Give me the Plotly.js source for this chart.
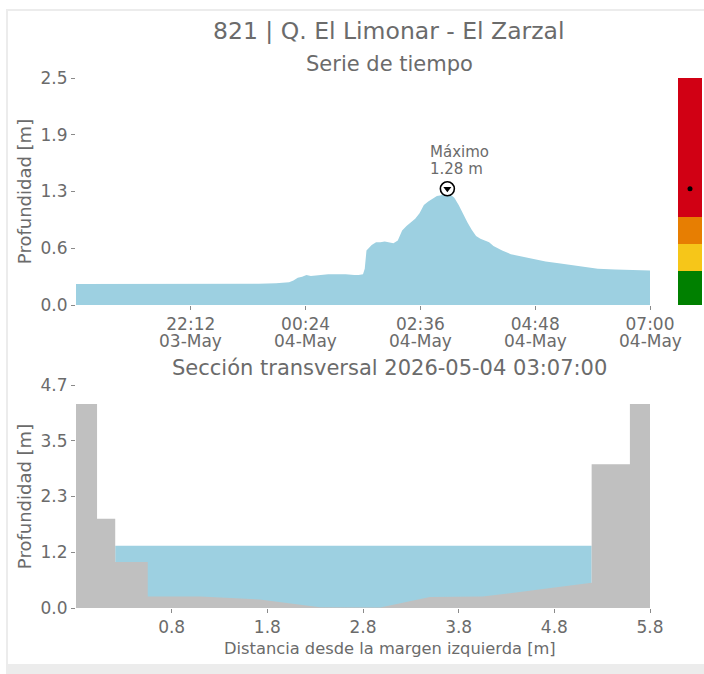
<!DOCTYPE html>
<html>
<head>
<meta charset="utf-8">
<script src="https://cdn.plot.ly/plotly-3.0.1.min.js"></script>
<style>
  html, body { margin: 0; padding: 0; background: #ffffff; }
  #wrap { position: relative; width: 704px; height: 674px; overflow: hidden; }
  #chart { position: absolute; left: 0; top: 0; width: 704px; height: 674px; }
  .frame { position: absolute; background: #ececec; pointer-events: none; }
</style>
</head>
<body>
<div id="wrap">
  <div id="chart"></div>
  <div class="frame" style="left:6px; top:9px; width:2px; height:665px;"></div>
  <div class="frame" style="left:6px; top:9px; width:698px; height:2px;"></div>
  <div class="frame" style="left:6px; top:664px; width:698px; height:10px;"></div>
</div>
<script>
// ---------- Time series (depth in m) ----------
const seriesTimes = [
  "2026-05-03 20:00", "2026-05-03 20:30", "2026-05-03 21:00", "2026-05-03 21:30",
  "2026-05-03 22:00", "2026-05-03 22:30", "2026-05-03 23:00", "2026-05-03 23:30",
  "2026-05-03 23:50", "2026-05-04 00:05", "2026-05-04 00:10", "2026-05-04 00:15",
  "2026-05-04 00:20", "2026-05-04 00:25", "2026-05-04 00:30", "2026-05-04 00:40",
  "2026-05-04 00:50", "2026-05-04 01:00", "2026-05-04 01:10", "2026-05-04 01:20",
  "2026-05-04 01:25", "2026-05-04 01:30", "2026-05-04 01:32", "2026-05-04 01:34",
  "2026-05-04 01:40", "2026-05-04 01:45", "2026-05-04 01:50", "2026-05-04 01:55",
  "2026-05-04 02:00", "2026-05-04 02:05", "2026-05-04 02:10", "2026-05-04 02:15",
  "2026-05-04 02:20", "2026-05-04 02:25", "2026-05-04 02:30", "2026-05-04 02:35",
  "2026-05-04 02:40", "2026-05-04 02:45", "2026-05-04 02:50", "2026-05-04 02:55",
  "2026-05-04 03:00", "2026-05-04 03:03", "2026-05-04 03:07", "2026-05-04 03:10",
  "2026-05-04 03:15", "2026-05-04 03:20", "2026-05-04 03:25", "2026-05-04 03:30",
  "2026-05-04 03:35", "2026-05-04 03:40", "2026-05-04 03:45", "2026-05-04 03:50",
  "2026-05-04 03:55", "2026-05-04 04:00", "2026-05-04 04:10", "2026-05-04 04:20",
  "2026-05-04 04:30", "2026-05-04 04:40", "2026-05-04 04:50", "2026-05-04 05:00",
  "2026-05-04 05:15", "2026-05-04 05:30", "2026-05-04 05:45", "2026-05-04 06:00",
  "2026-05-04 06:20", "2026-05-04 06:40", "2026-05-04 07:00"
];
const seriesDepth = [
  0.23, 0.23, 0.23, 0.23,
  0.23, 0.23, 0.23, 0.235,
  0.24, 0.25, 0.27, 0.30,
  0.31, 0.33, 0.32, 0.33,
  0.34, 0.34, 0.34, 0.33,
  0.33, 0.34, 0.40, 0.60,
  0.66, 0.69, 0.69, 0.70,
  0.69, 0.68, 0.71, 0.82,
  0.87, 0.91, 0.95, 1.01,
  1.10, 1.14, 1.17, 1.20,
  1.21, 1.24, 1.28, 1.22,
  1.18, 1.10, 1.00, 0.91,
  0.83, 0.76, 0.73, 0.71,
  0.69, 0.65, 0.60, 0.56,
  0.54, 0.52, 0.50, 0.48,
  0.46, 0.44, 0.42, 0.40,
  0.39, 0.385, 0.38
];
const timeRange = ["2026-05-03 20:00", "2026-05-04 07:00"];
const timeTickVals = ["2026-05-03 22:12", "2026-05-04 00:24", "2026-05-04 02:36", "2026-05-04 04:48", "2026-05-04 07:00"];
const timeTickText = ["22:12", "00:24", "02:36", "04:48", "07:00"];
const timeTickDates = ["03-May", "04-May", "04-May", "04-May", "04-May"];
const depthTickVals = [0, 0.625, 1.25, 1.875, 2.5];
const depthTickText = ["0.0", "0.6", "1.3", "1.9", "2.5"];

// ---------- Alert levels ----------
const levelBounds = [0, 0.37, 0.67, 0.97, 2.5];
const levelColors = ["#008000", "#f6c619", "#e77e02", "#d10014"];

// ---------- Cross section ----------
const groundX = [-0.2, 0.02, 0.02, 0.21, 0.21, 0.55, 0.55, 1.10, 1.72, 2.35, 2.98, 3.50, 4.05, 5.19, 5.19, 5.59, 5.59, 5.8];
const groundY = [4.3, 4.3, 1.88, 1.88, 0.97, 0.97, 0.24, 0.24, 0.18, 0.015, 0.01, 0.23, 0.24, 0.53, 3.03, 3.03, 4.3, 4.3];
const waterX = [0.21, 5.19];
const waterLevel = 1.31;
const sectionTickVals = [0.8, 1.8, 2.8, 3.8, 4.8, 5.8];
const sectionTickText = ["0.8", "1.8", "2.8", "3.8", "4.8", "5.8"];
const sectionDepthTickVals = [0, 1.175, 2.35, 3.525, 4.7];
const sectionDepthTickText = ["0.0", "1.2", "2.3", "3.5", "4.7"];

// ---------- Texts ----------
const mainTitle = "821 | Q. El Limonar - El Zarzal";
const topTitle = "Serie de tiempo";
const bottomTitle = "Sección transversal 2026-05-04 03:07:00";
const yTitle = "Profundidad [m]";
const xTitleBottom = "Distancia desde la margen izquierda [m]";

// ---------- Build ----------
const W = 704, H = 674;
const px = v => v / W;
const py = v => 1 - v / H;
const FONT = "DejaVu Sans, Verdana, sans-serif";
const TXT = "#6b6b6b";
const FILL = "#9dd0e1";
const GROUND = "#c0c0c0";

let maxVal = -Infinity, maxIdx = 0;
seriesDepth.forEach((v, i) => { if (v > maxVal) { maxVal = v; maxIdx = i; } });
const maxTime = seriesTimes[maxIdx];

const traces = [];
traces.push({
  type: "scatter", mode: "lines", x: seriesTimes, y: seriesDepth,
  fill: "tozeroy", fillcolor: FILL, line: { width: 0, color: FILL },
  xaxis: "x", yaxis: "y", hoverinfo: "skip"
});
traces.push({
  type: "scatter", mode: "markers", x: [maxTime], y: [maxVal],
  marker: { symbol: "circle", size: 14, color: "#ffffff", line: { color: "#000000", width: 1.6 } },
  xaxis: "x", yaxis: "y", hoverinfo: "skip"
});
traces.push({
  type: "scatter", mode: "markers", x: [maxTime], y: [maxVal],
  marker: { symbol: "triangle-down", size: 7, color: "#000000", line: { width: 0 } },
  xaxis: "x", yaxis: "y", hoverinfo: "skip"
});
for (let i = 0; i < levelColors.length; i++) {
  traces.push({
    type: "bar", x: [0], y: [levelBounds[i + 1] - levelBounds[i]], base: [levelBounds[i]],
    width: 1, marker: { color: levelColors[i], line: { width: 0 } },
    xaxis: "x3", yaxis: "y", hoverinfo: "skip"
  });
}
traces.push({
  type: "scatter", mode: "markers", x: [0], y: [maxVal],
  marker: { size: 5, color: "#000000" }, xaxis: "x3", yaxis: "y", hoverinfo: "skip"
});
traces.push({
  type: "scatter", mode: "lines", x: waterX, y: [waterLevel, waterLevel],
  fill: "tozeroy", fillcolor: FILL, line: { width: 0, color: FILL },
  xaxis: "x2", yaxis: "y2", hoverinfo: "skip"
});
traces.push({
  type: "scatter", mode: "lines", x: groundX, y: groundY,
  fill: "tozeroy", fillcolor: GROUND, line: { width: 0, color: GROUND },
  xaxis: "x2", yaxis: "y2", hoverinfo: "skip"
});

const tickFont = { family: FONT, size: 17, color: TXT };
const axisCommon = {
  showgrid: false, zeroline: false, showline: false,
  ticks: "outside", ticklen: 4, tickwidth: 1, tickcolor: "#8a8a8a",
  tickfont: tickFont, fixedrange: true
};

const annotations = [
  { text: mainTitle, xref: "paper", yref: "paper", x: px(389), y: py(31),
    xanchor: "center", yanchor: "middle", showarrow: false,
    font: { family: FONT, size: 23.5, color: TXT } },
  { text: topTitle, xref: "paper", yref: "paper", x: px(389), y: py(64),
    xanchor: "center", yanchor: "middle", showarrow: false,
    font: { family: FONT, size: 21, color: TXT } },
  { text: bottomTitle, xref: "paper", yref: "paper", x: px(389), y: py(368),
    xanchor: "center", yanchor: "middle", showarrow: false,
    font: { family: FONT, size: 21, color: TXT } },
  { text: xTitleBottom, xref: "paper", yref: "paper", x: px(390), y: py(648),
    xanchor: "center", yanchor: "middle", showarrow: false,
    font: { family: FONT, size: 16.3, color: TXT } },
  { text: "Máximo", xref: "x", yref: "y", x: maxTime, y: maxVal,
    xanchor: "left", yanchor: "middle", xshift: -19, yshift: 37, showarrow: false,
    font: { family: FONT, size: 15, color: TXT } },
  { text: maxVal.toFixed(2) + " m", xref: "x", yref: "y", x: maxTime, y: maxVal,
    xanchor: "left", yanchor: "middle", xshift: -19, yshift: 20, showarrow: false,
    font: { family: FONT, size: 15, color: TXT } }
];
timeTickVals.forEach((t, i) => {
  annotations.push({
    text: timeTickDates[i], xref: "x", yref: "paper", x: t, y: py(341),
    xanchor: "center", yanchor: "middle", showarrow: false,
    font: { family: FONT, size: 17, color: TXT }
  });
});

const layout = {
  width: W, height: H,
  margin: { l: 0, r: 0, t: 0, b: 0 },
  paper_bgcolor: "#ffffff", plot_bgcolor: "rgba(0,0,0,0)",
  showlegend: false, hovermode: false, barmode: "overlay", bargap: 0,
  font: { family: FONT, color: TXT },
  xaxis: Object.assign({}, axisCommon, {
    type: "date", domain: [px(76), px(650)], anchor: "y",
    range: timeRange, tickmode: "array", tickvals: timeTickVals, ticktext: timeTickText
  }),
  yaxis: Object.assign({}, axisCommon, {
    domain: [py(305), py(78)], anchor: "x", range: [0, 2.5],
    tickmode: "array", tickvals: depthTickVals, ticktext: depthTickText,
    title: { text: yTitle, font: { family: FONT, size: 18, color: TXT }, standoff: 4 }
  }),
  xaxis2: Object.assign({}, axisCommon, {
    domain: [px(76), px(650)], anchor: "y2", range: [-0.2, 5.8],
    tickmode: "array", tickvals: sectionTickVals, ticktext: sectionTickText
  }),
  yaxis2: Object.assign({}, axisCommon, {
    domain: [py(608), py(385)], anchor: "x2", range: [0, 4.7],
    tickmode: "array", tickvals: sectionDepthTickVals, ticktext: sectionDepthTickText,
    title: { text: yTitle, font: { family: FONT, size: 18, color: TXT }, standoff: 4 }
  }),
  xaxis3: {
    domain: [px(678), px(702)], anchor: "y", range: [-0.5, 0.5],
    visible: false, fixedrange: true
  },
  annotations: annotations
};

Plotly.newPlot("chart", traces, layout, { staticPlot: true, displayModeBar: false });
</script>
</body>
</html>
